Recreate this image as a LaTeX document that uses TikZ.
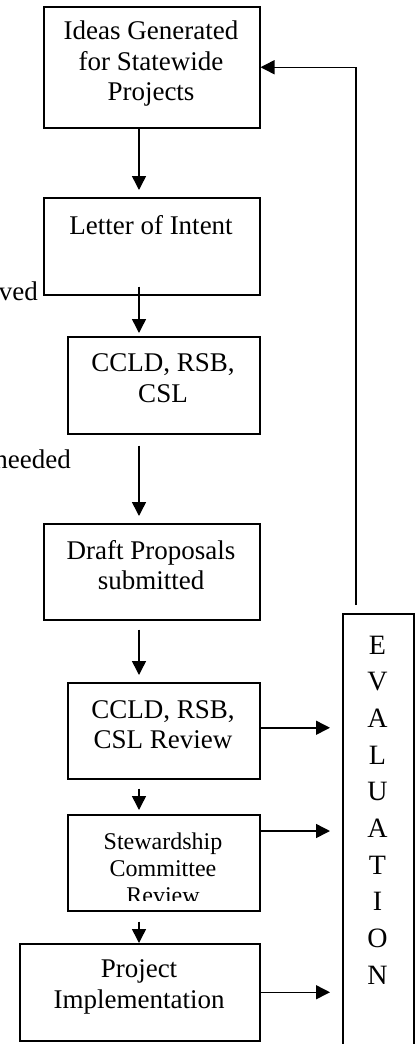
\documentclass[tikz,border=0pt]{standalone}
\usepackage{fontspec}
\setmainfont{Liberation Serif}
\usetikzlibrary{arrows.meta,calc}
\begin{document}
\begin{tikzpicture}[x=1pt,y=-1pt,
  box/.style={draw,line width=1.5pt,inner sep=0pt,anchor=north west},
  txt/.style={font=\fontsize{27}{30.5}\selectfont,align=center,inner sep=0pt},
  small/.style={font=\fontsize{24}{27}\selectfont,align=center,inner sep=0pt},
  evtxt/.style={font=\fontsize{28}{36.7}\selectfont,align=center,inner sep=0pt},
  arr/.style={line width=1.5pt,-{Triangle[width=14pt,length=14pt]}},
]
\useasboundingbox (0,0) rectangle (417,1044);
% boxes
\node[box,minimum width=216pt,minimum height=121pt] (b1) at (43,6) {};
\node[box,minimum width=216pt,minimum height=97pt] (b2) at (43,197) {};
\node[box,minimum width=192pt,minimum height=97pt] (b3) at (67,336) {};
\node[box,minimum width=216pt,minimum height=96pt] (b4) at (43,523) {};
\node[box,minimum width=192pt,minimum height=96pt] (b5) at (67,682) {};
\node[box,minimum width=192pt,minimum height=96pt] (b6) at (67,814) {};
\node[box,minimum width=240pt,minimum height=97pt] (b7) at (19,943) {};
\node[box,minimum width=71pt,minimum height=460pt] (ev) at (342,613) {};
% texts
\node[txt] (t1) at (151,64) {Ideas Generated\\for Statewide\\Projects};
\node[txt] (t2) at (151,225) {Letter of Intent};
\node[txt] (t3) at (163,378) {CCLD, RSB,\\CSL};
\node[txt] (t4) at (151,565) {Draft Proposals\\submitted};
\node[txt] (t5) at (163,724.5) {CCLD, RSB,\\CSL Review};
\begin{scope}
  \clip (67,814) rectangle (259,900);
  \node[small] (t6) at (163,868) {Stewardship\\Committee\\Review};
\end{scope}
\node[txt] (t7) at (139,987) {Project\\Implementation};
\node[evtxt] (tev) at (377.5,810) {E\\V\\A\\L\\U\\A\\T\\I\\O\\N};
\node[txt,anchor=base east] (l1) at (38,300) {ved};
\node[txt,anchor=base east] (l2) at (71,468) {needed};
% connectors
\coordinate (ax) at (139,0);
\coordinate (fx) at (356,0);
\draw[arr,shorten >=7pt] (b1.south -| ax) -- (b2.north -| ax);
\draw[arr,shorten <=-9pt,shorten >=3pt] (b2.south -| ax) -- (b3.north -| ax);
\draw[arr,shorten <=11pt,shorten >=7pt] (b3.south -| ax) -- (b4.north -| ax);
\draw[arr,shorten <=9pt,shorten >=7pt] (b4.south -| ax) -- (b5.north -| ax);
\draw[arr,shorten <=9pt,shorten >=4pt] (b5.south -| ax) -- (b6.north -| ax);
\draw[arr,shorten <=10pt] (b6.south -| ax) -- (b7.north -| ax);
\draw[arr,shorten >=12pt] ($(b5.east)+(0,-3)$) -- ($(b5.east -| ev.west)+(0,-3)$);
\draw[arr,shorten >=12pt] ($(b6.north east)+(0,17)$) -- ($(b6.north east -| ev.west)+(0,17)$);
\draw[arr,shorten >=12pt] (b7.east) -- (b7.east -| ev.west);
\draw[arr,shorten <=8pt] (ev.north -| fx) |- (b1.east);
\end{tikzpicture}
\end{document}
